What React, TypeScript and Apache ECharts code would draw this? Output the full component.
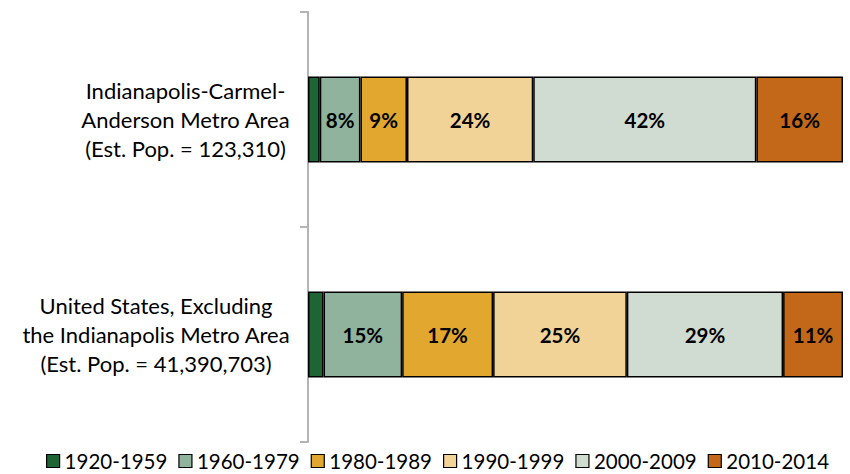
import React, { useEffect, useRef } from "react";
import * as echarts from "echarts";

const categories = [
  "Indianapolis-Carmel-\nAnderson Metro Area\n(Est. Pop. = 123,310)",
  "United States, Excluding\nthe Indianapolis Metro Area\n(Est. Pop. = 41,390,703)",
];
const seriesNames = ["1920-1959", "1960-1979", "1980-1989", "1990-1999", "2000-2009", "2010-2014"];
const s1920 = [2.2, 2.9];
const s1960 = [7.6, 14.7];
const s1980 = [8.7, 17.0];
const s1990 = [23.6, 25.0];
const s2000 = [41.7, 29.2];
const s2010 = [16.2, 11.2];
const seriesValues = [s1920, s1960, s1980, s1990, s2000, s2010];
const colors = ["#1e6536", "#8fb39d", "#e2a72e", "#f2d397", "#d0dbd1", "#c36818"];
const showLabel = [false, true, true, true, true, true];

const FONT = "Lato, 'Open Sans', sans-serif";

export default function App() {
  const ref = useRef<HTMLDivElement>(null);
  useEffect(() => {
    if (!ref.current) return;
    const chart = echarts.init(ref.current, null, { renderer: "svg" });
    chart.setOption({
      animation: false,
      textStyle: { fontFamily: FONT },
      grid: { left: 308, right: 7, top: 12, bottom: 32, containLabel: false },
      legend: {
        top: 450,
        left: 46,
        width: 800,
        icon: "rect",
        itemWidth: 13,
        itemHeight: 13,
        itemGap: 11,
        padding: 0,
        textStyle: { fontSize: 20.5, lineHeight: 22, color: "#000", fontFamily: FONT },
        itemStyle: { borderColor: "#000", borderWidth: 1.2 },
        data: seriesNames,
      },
      xAxis: {
        type: "value",
        min: 0,
        max: 100,
        show: false,
      },
      yAxis: {
        type: "category",
        inverse: true,
        data: categories,
        axisLine: { show: true, lineStyle: { color: "#b4b4b4", width: 2 } },
        axisTick: { show: true, length: 8, lineStyle: { color: "#b4b4b4", width: 2 } },
        axisLabel: {
          margin: 18,
          align: "right",
          color: "#000",
          fontSize: 22,
          lineHeight: 29,
          fontFamily: FONT,
          formatter: (v: string) =>
            v
              .split("\n")
              .map((l) => `{c|${l}}`)
              .join("\n"),
          rich: { c: { align: "center", fontSize: 22, lineHeight: 29, fontFamily: FONT, color: "#000" } },
        },
      },
      series: seriesNames.map((name, i) => ({
        name,
        type: "bar",
        stack: "total",
        barWidth: 86,
        data: seriesValues[i],
        itemStyle: { color: colors[i], borderColor: "#000", borderWidth: 1.5 },
        label: {
          show: showLabel[i],
          position: "inside",
          color: "#000",
          fontWeight: "bold",
          fontSize: 20.5,
          fontFamily: FONT,
          formatter: (p: any) => `${Math.round(p.value)}%`,
        },
      })),
    });
    return () => chart.dispose();
  }, []);
  return <div ref={ref} style={{ width: 850, height: 474, position: "absolute", left: 0, top: 0 }} />;
}
